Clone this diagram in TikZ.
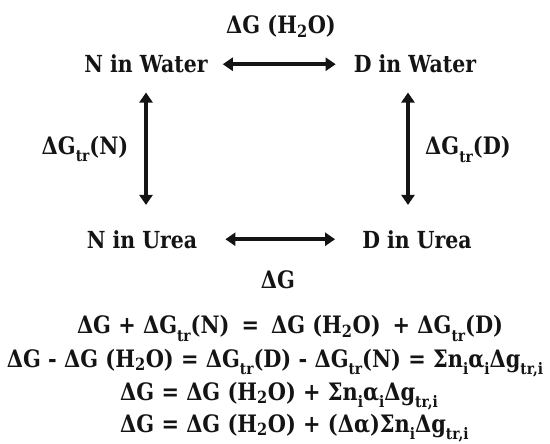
\documentclass[tikz,border=0pt]{standalone}
\usepackage{fontspec}
\setmainfont{DejaVu Serif}[FakeStretch=0.87]
\usepackage{tikz}
\usetikzlibrary{arrows.meta,positioning}
\definecolor{inkBlack}{RGB}{20,20,20}
\newcommand{\lowsub}[1]{\raisebox{-0.3em}{\fontsize{0.66em}{1em}\selectfont #1}}
\newcommand{\dG}{ΔG}
\newcommand{\dGtr}{ΔG\lowsub{tr}}
\newcommand{\water}{H\textsubscript{2}O}
\newcommand{\sumtr}{Σn\lowsub{i}α\lowsub{i}Δg\lowsub{tr,i}}

\begin{document}
\begin{tikzpicture}[x=1pt,y=-1pt,
  state/.style={text=inkBlack, inner sep=0pt, anchor=base, font=\fontsize{23.5}{28}\selectfont\bfseries},
  lab/.style={text=inkBlack, inner sep=0pt, anchor=base, font=\fontsize{24}{28}\selectfont\bfseries},
  eqn/.style={text=inkBlack, inner sep=0pt, anchor=base, font=\fontsize{24}{28}\selectfont\bfseries},
  biarrow/.style={inkBlack, line width=3.6pt, {Triangle[length=10pt,width=13pt]}-{Triangle[length=10pt,width=13pt]}}]
\useasboundingbox (0,0) rectangle (550,444);
\node[state] (nw) at (146,73) {N in Water};
\node[state] (dw) at (415,73) {D in Water};
\node[state] (nu) at (142,248) {N in Urea};
\node[state] (du) at (417,248) {D in Urea};
\node[lab] (gwater) at (281,34) {\dG{} (\water)};
\node[lab] (gurea) at (278,288) {\dG};
\node[lab] (trn) at (85,154) {\dGtr(N)};
\node[lab] (trd) at (468,155) {\dGtr(D)};
\draw[biarrow, shorten <=15pt, shorten >=18pt] (nw) -- (dw);
\draw[biarrow, shorten <=28pt, shorten >=27pt] (nu) -- (du);
\draw[biarrow, shorten <=19pt, shorten >=25pt] (nw.south) -- (nw.south |- nu.north);
\draw[biarrow, shorten <=19pt, shorten >=25pt] ([xshift=-7pt]dw.south) -- ([xshift=-7pt]dw.south |- du.north);
% balance equations
\node[eqn] (eqa) at (290,334) {\dG{} + \dGtr(N)\enspace=\enspace\dG{} (\water)\enspace+ \dGtr(D)};
\node[eqn] (eqb) at (275,367) {\dG{} - \dG{} (\water) = \dGtr(D) - \dGtr(N) = \sumtr};
\node[eqn, anchor=base west] (eqc) at (120,400) {\dG{} = \dG{} (\water) + \sumtr};
\node[eqn, anchor=base west] (eqd) at (120,432) {\dG{} = \dG{} (\water) + (Δα)Σn\lowsub{i}Δg\lowsub{tr,i}};
\end{tikzpicture}
\end{document}
